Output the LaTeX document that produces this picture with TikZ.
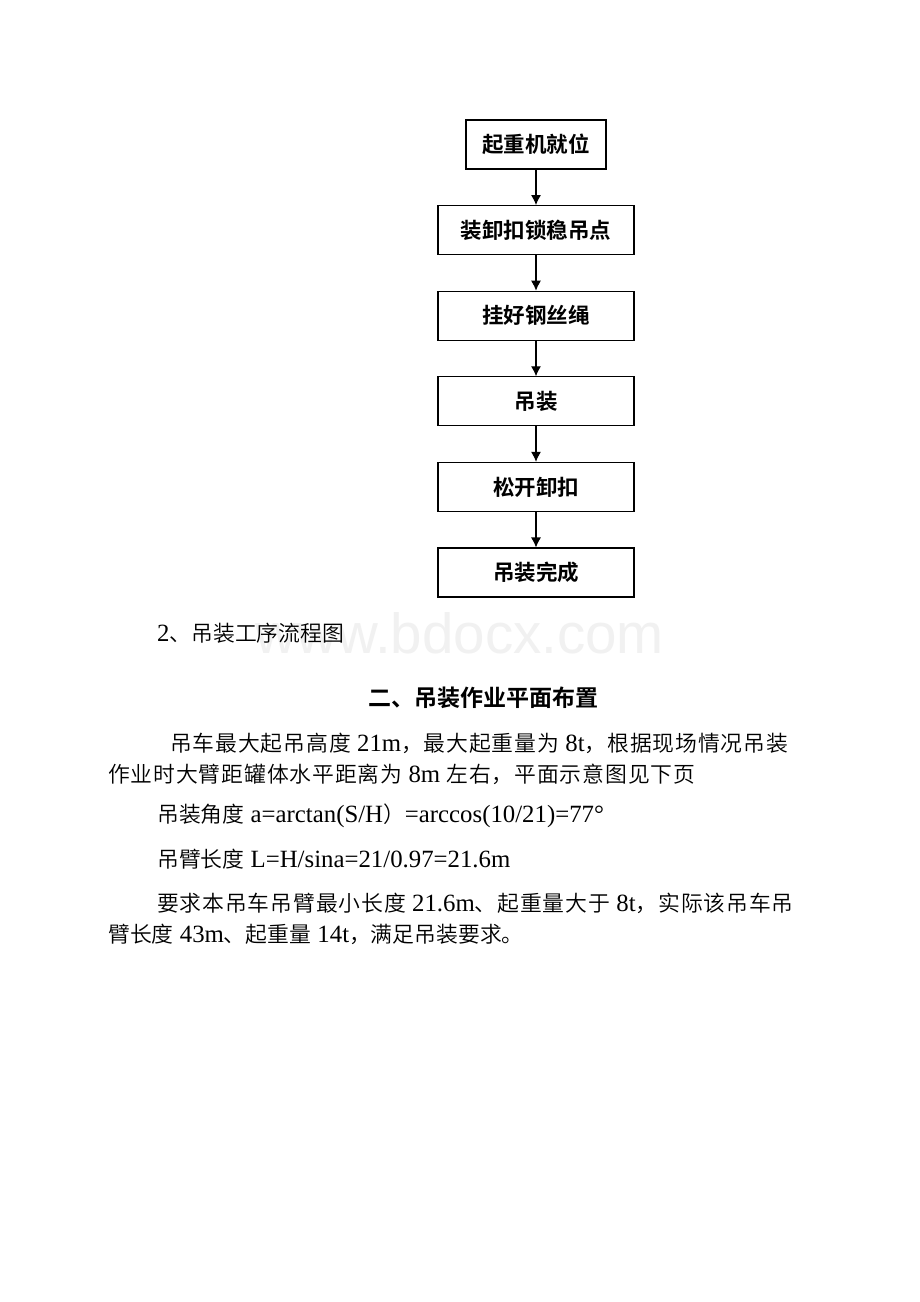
\documentclass[tikz,border=0pt]{standalone}
\usepackage{fontspec}
\setmainfont{Liberation Serif}
\setsansfont{Liberation Sans}
\newfontfamily\cjk{Noto Sans CJK SC}[Scale=0.88, UprightFont=* DemiLight, BoldFont=* Bold]
\newfontfamily\cjkj{Noto Sans CJK SC}[Scale=0.88, UprightFont=* DemiLight, LetterSpace=4]
\newfontfamily\cjkhei{Noto Sans CJK SC}[BoldFont=* Bold]
\usetikzlibrary{positioning,arrows.meta}
\newcommand\zh[1]{{\cjk #1}}
\newcommand\zhj[1]{{\cjkj #1}}
\begin{document}
\begin{tikzpicture}[x=1pt,y=-1pt,
    flowbox/.style={draw,line width=1.1pt,minimum width=196pt,minimum height=49pt,inner sep=0pt,
      font=\cjkhei\bfseries\fontsize{21.5}{24}\selectfont},
    flowarrow/.style={-{Latex[length=10pt,width=10pt]},line width=1.1pt},
    bodyline/.style={anchor=west,inner sep=0pt,font=\fontsize{24.8}{28}\selectfont}]
    \useasboundingbox[fill=white] (0,0) rectangle (920,1302);

    % 流程图
    \node[flowbox,minimum width=140pt] (jiuwei) at (536,144.5) {起重机就位};
    \node[flowbox,below=35.5pt of jiuwei] (xiekou) {装卸扣锁稳吊点};
    \node[flowbox,below=35.5pt of xiekou] (gangsi) {挂好钢丝绳};
    \node[flowbox,below=35.5pt of gangsi] (diaozhuang) {吊装};
    \node[flowbox,below=35.5pt of diaozhuang] (songkai) {松开卸扣};
    \node[flowbox,below=35.5pt of songkai] (wancheng) {吊装完成};
    \foreach \a/\b in {jiuwei/xiekou,xiekou/gangsi,gangsi/diaozhuang,diaozhuang/songkai,songkai/wancheng}
        \draw[flowarrow] (\a) -- (\b);

    % 水印
    \node[text=gray!11,font=\sffamily\fontsize{56.5}{60}\selectfont,inner sep=0pt] (shuiyin) at (460,633) {www.bdocx.com};

    % 正文
    \node[bodyline] (tuming) at (157,633) {2\zh{、吊装工序流程图}};
    \node[anchor=center,inner sep=0pt,font=\cjkhei\bfseries\fontsize{23}{26}\selectfont] (biaoti) at (483,698) {二、吊装作业平面布置};
    \node[bodyline] (hang1) at (170,743) {\zhj{吊车最大起吊高度} 21m\zhj{，最大起重量为} 8t\zhj{，根据现场情况吊装}};
    \node[bodyline] (hang2) at (108,774) {\zhj{作业时大臂距罐体水平距离为} 8m \zhj{左右，平面示意图见下页}};
    \node[bodyline] (hang3) at (157,816) {\zh{吊装角度} a=arctan(S/H\zh{）}=arccos(10/21)=77°};
    \node[bodyline] (hang4) at (157,859) {\zh{吊臂长度} L=H/sina=21/0.97=21.6m};
    \node[bodyline] (hang5) at (157,903) {\zhj{要求本吊车吊臂最小长度} 21.6m\zhj{、起重量大于} 8t\zhj{，实际该吊车吊}};
    \node[bodyline] (hang6) at (108,934) {\zh{臂长度} 43m\zh{、起重量} 14t\zh{，满足吊装要求。}};
\end{tikzpicture}
\end{document}
